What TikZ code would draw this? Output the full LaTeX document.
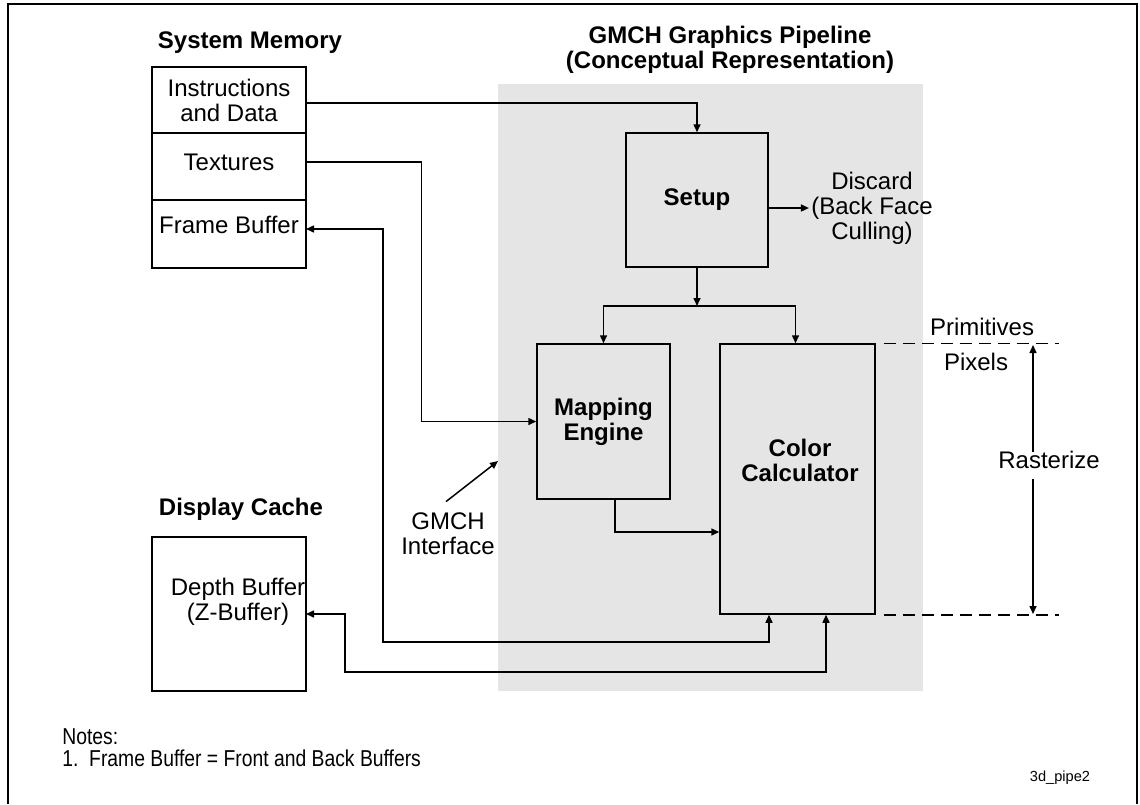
\documentclass[tikz,border=0pt]{standalone}
\usepackage{fontspec}
\setmainfont{Liberation Sans}
\usetikzlibrary{arrows.meta,positioning,calc}
\definecolor{PipeBg}{HTML}{E5E5E5}
\definecolor{Ink}{HTML}{000000}
\newcommand{\narrow}[1]{\scalebox{0.84}[1]{#1}}
\tikzset{
  cell/.style={draw=Ink,line width=0.75pt,fill=white,minimum width=77pt,inner sep=1pt,outer sep=0pt,align=center,font=\fontsize{12}{12.5}\selectfont},
  stage/.style={draw=Ink,line width=0.75pt,fill=PipeBg,inner sep=1pt,align=center,font=\fontsize{12}{12.5}\selectfont\bfseries},
  txt/.style={inner sep=1pt,align=center,font=\fontsize{12}{12.5}\selectfont},
  heading/.style={inner sep=1pt,align=center,font=\fontsize{12}{12.5}\selectfont\bfseries},
  arr/.style={-{Triangle[length=4pt,width=3.5pt]},draw=Ink,line width=0.75pt},
  dblarr/.style={{Triangle[length=4pt,width=3.5pt]}-{Triangle[length=4pt,width=3.5pt]},draw=Ink,line width=0.75pt},
  dashln/.style={dash pattern=on 6pt off 3.5pt,draw=Ink,line width=0.75pt}
}

\begin{document}
\begin{tikzpicture}[x=0.5pt,y=-0.5pt]
  \useasboundingbox (0,0) rectangle (1140,804);
  % frame and pipeline area
  \draw[line width=1.2pt] (8,804) -- (8,4) -- (1137,4) -- (1137,804);
  \fill[PipeBg] (498,84) rectangle (923,691);

  % system memory
  \node[heading] (sysmem) at (250,43) {System Memory};
  \node[cell,minimum height=33pt] (instr) at (229,100) {Instructions\\and Data};
  \node[cell,minimum height=33.5pt,text depth=4.5pt,below=0pt of instr] (tex) {Textures};
  \node[cell,minimum height=34pt,text depth=9pt,below=0pt of tex] (fbuf) {Frame Buffer};

  % display cache
  \node[heading] (dispcache) at (241,509) {Display Cache};
  \node[cell,minimum height=77pt] (depth) at (229,614) {};
  \node[txt] (depthlbl) at (238,602) {Depth Buffer\\(Z-Buffer)};

  % pipeline stages
  \node[heading] (pipetitle) at (730,50) {GMCH Graphics Pipeline\\(Conceptual Representation)};
  \node[stage,minimum width=71pt,minimum height=67pt] (setup) at (697,200) {Setup};
  \node[stage,minimum width=66.5pt,minimum height=77.5pt] (mapping) at (603.5,421.5) {Mapping\\Engine};
  \node[stage,minimum width=77.5pt,minimum height=135pt] (color) at (797.5,479) {};
  \node[heading] (colorlbl) at (800,460) {Color\\Calculator};
  \node[txt] (discard) at (872,208) {Discard\\(Back Face\\Culling)};
  \node[txt] (gmchif) at (448,534) {GMCH\\Interface};
  \coordinate (ifport) at (498,461);
  \coordinate (split) at (697,306);

  % connectors
  \draw[arr] ([yshift=-1.5pt]instr.east) -| (setup.north);
  \draw[arr] (setup.east |- discard.west) -- (discard.west);
  \draw[arr] (setup.south) -- (split);
  \draw[arr] (split) -| (mapping.north);
  \draw[arr] (split) -| ([xshift=-1pt]color.north);
  \draw[arr] ([yshift=2.25pt]tex.east) -| ($(mapping.west)+(-115,0)$) -- (mapping.west);
  \draw[arr] ([xshift=5.75pt]mapping.south) |- ($(color.west)+(0,53)$);
  \draw[arr] ($(gmchif.north)+(-2,-9)$) -- (ifport);
  \coordinate (fbbend) at (383,642);
  \draw[dblarr] ([yshift=2.5pt]fbuf.east) -| (fbbend) -| ($(color.south)+(-28.5,0)$);
  \coordinate (zbend) at (345,672);
  \draw[dblarr] (depth.east) -| (zbend) -| ($(color.south)+(28.5,0)$);

  % rasterize span
  \node[txt] (prim) at (982,327) {Primitives};
  \node[txt] (pix) at (976,362) {Pixels};
  \node[txt] (raster) at (1049,460) {Rasterize};
  \coordinate (rtop) at (1033,345);
  \coordinate (rbot) at (1033,614);
  \draw[dashln] ($(color.north east)+(8,0)$) -- ($(color.north east)+(183,0)$);
  \draw[dashln] ($(color.south east)+(8,0)$) -- ($(color.south east)+(183,0)$);
  \draw[arr] ($(rtop |- raster.north)+(0,3)$) -- (rtop);
  \draw[arr] ($(rtop |- raster.south)+(0,8)$) -- (rbot);

  % notes
  \node[txt,anchor=west,align=left,font=\fontsize{11.5}{11}\selectfont] (notes) at (60,748) {\narrow{Notes:}\\\narrow{1.\ \ Frame Buffer = Front and Back Buffers}};
  \node[txt,font=\fontsize{7.3}{8}\selectfont] (figid) at (1060,778) {3d\_pipe2};
\end{tikzpicture}
\end{document}
